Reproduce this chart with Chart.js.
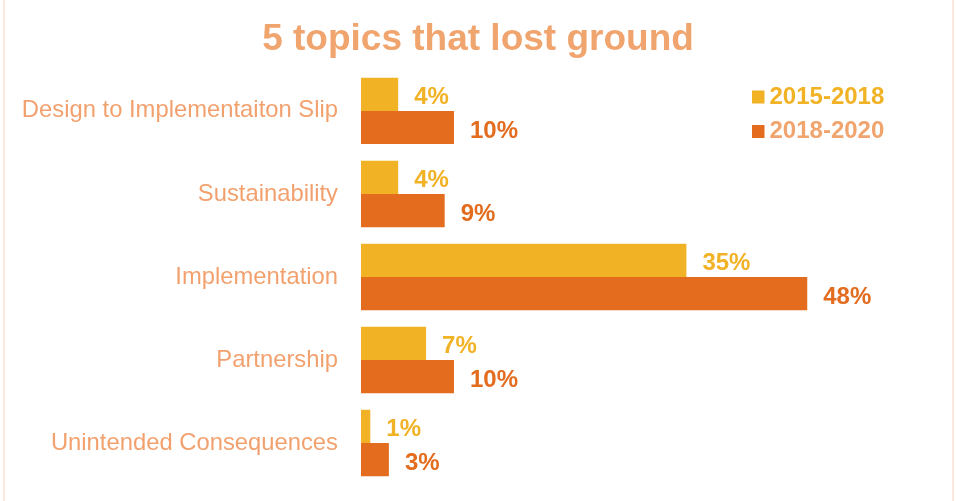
<!DOCTYPE html>
<html>
<head>
<meta charset="utf-8">
<script src="https://cdn.jsdelivr.net/npm/chart.js@4"></script>
<style>
  body { margin: 0; background: #fff; }
  #wrap { position: relative; width: 956px; height: 501px; }
  #wrap:before, #wrap:after {
    content: ""; position: absolute; top: 0; bottom: 0; width: 2px; background: #fbe9e0;
  }
  #wrap:before { left: 3px; }
  #wrap:after { left: 952px; }
</style>
</head>
<body>
<div id="wrap"><canvas id="myChart" width="956" height="501"></canvas></div>
<script>
const topics = ["Design to Implementaiton Slip", "Sustainability", "Implementation", "Partnership", "Unintended Consequences"];
const period1 = "2015-2018";
const period2 = "2018-2020";
const values1 = [4, 4, 35, 7, 1];
const values2 = [10, 9, 48, 10, 3];

const yellow = "#f2b225";
const orange = "#e36c1e";
const lightOrange = "#f0a46e";
const fontFamily = "'Liberation Sans', Arial, sans-serif";

// percent labels next to each bar
const barLabels = {
  id: "barLabels",
  afterDatasetsDraw(chart) {
    const ctx = chart.ctx;
    ctx.save();
    ctx.font = "bold 24px " + fontFamily;
    ctx.textBaseline = "alphabetic";
    ctx.textAlign = "left";
    chart.data.datasets.forEach((ds, i) => {
      const meta = chart.getDatasetMeta(i);
      ctx.fillStyle = ds.backgroundColor;
      meta.data.forEach((bar, j) => {
        ctx.fillText(ds.data[j] + "%", bar.x + 16, bar.y + 10);
      });
    });
    ctx.restore();
  }
};

// legend in the top right corner
const cornerLegend = {
  id: "cornerLegend",
  afterDraw(chart) {
    const ctx = chart.ctx;
    const textColors = [yellow, lightOrange];
    ctx.save();
    ctx.font = "bold 24px " + fontFamily;
    ctx.textBaseline = "middle";
    chart.data.datasets.forEach((ds, i) => {
      const y = 97 + i * 34.5;
      ctx.fillStyle = ds.backgroundColor;
      ctx.fillRect(752, y - 6.5, 12.5, 13);
      ctx.fillStyle = textColors[i];
      ctx.fillText(ds.label, 769.5, y);
    });
    ctx.restore();
  }
};

const chart = document.getElementById("myChart").getContext("2d");
const myChart = new Chart(chart, {
  type: "bar",
  data: {
    labels: topics,
    datasets: [{
      label: period1,
      data: values1,
      backgroundColor: yellow,
      borderWidth: 0
    }, {
      label: period2,
      data: values2,
      backgroundColor: orange,
      borderWidth: 0
    }]
  },
  options: {
    indexAxis: "y",
    responsive: false,
    animation: false,
    layout: { padding: { top: 0, right: 0, bottom: 16.5, left: 0 } },
    datasets: { bar: { categoryPercentage: 0.8, barPercentage: 1 } },
    plugins: {
      legend: { display: false },
      tooltip: { enabled: false },
      title: {
        display: true,
        text: "5 topics that lost ground",
        color: lightOrange,
        font: { family: fontFamily, size: 37, weight: "bold", lineHeight: 1.2 },
        padding: { top: 18, bottom: 7 }
      }
    },
    scales: {
      x: {
        display: false,
        min: 0,
        max: 64
      },
      y: {
        grid: { display: false, drawTicks: false },
        border: { display: false },
        ticks: {
          color: "#f2a16e",
          padding: 23,
          font: { family: fontFamily, size: 23.8 }
        },
        afterFit(scale) {
          scale.width = 361;
          scale.paddingTop = 0;
          scale.paddingBottom = 0;
        }
      }
    }
  },
  plugins: [barLabels, cornerLegend]
});
</script>
</body>
</html>
